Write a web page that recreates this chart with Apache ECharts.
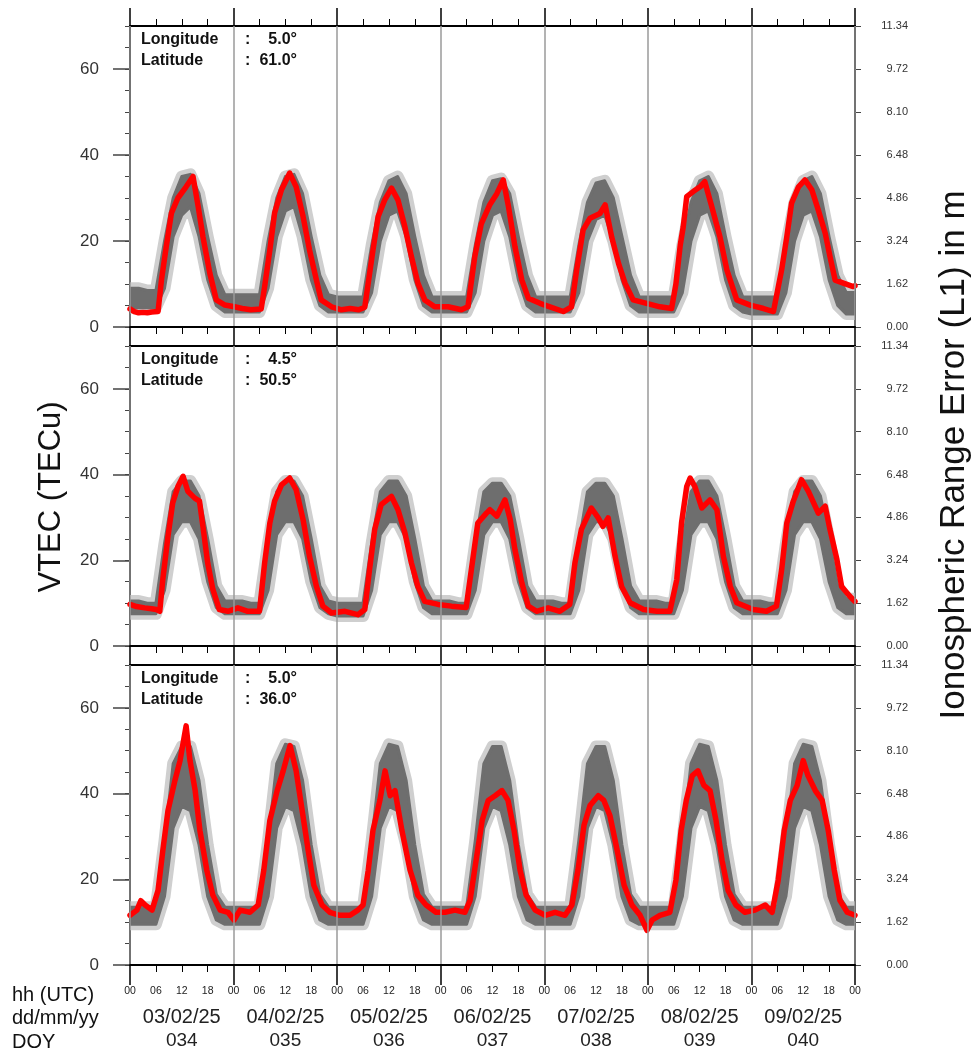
<!DOCTYPE html>
<html>
<head>
<meta charset="utf-8">
<script src="https://cdn.jsdelivr.net/npm/echarts@6/dist/echarts.min.js"></script>
<style>html,body{margin:0;padding:0;background:#fff}#c{width:973px;height:1056px}</style>
</head>
<body>
<div id="c"></div>
<script>
// ---------- data ----------
const dates = ['03/02/25','04/02/25','05/02/25','06/02/25','07/02/25','08/02/25','09/02/25'];
const doys = ['034','035','036','037','038','039','040'];
const hourLabels = ['00','06','12','18'];
const leftTicks = [0,20,40,60];
const rightTickLabels = ['0.00','1.62','3.24','4.86','6.48','8.10','9.72','11.34'];
const longitudes = ['5.0°','4.5°','5.0°'];
const latitudes = ['61.0°','50.5°','36.0°'];

const bandHours = [0,2,4,6,8,10,12,14,16,18,20,22,24,26,28,30,32,34,36,38,40,42,44,46,48,50,52,54,56,58,60,62,64,66,68,70,72,74,76,78,80,82,84,86,88,90,92,94,96,98,100,102,104,106,108,110,112,114,116,118,120,122,124,126,128,130,132,134,136,138,140,142,144,146,148,150,152,154,156,158,160,162,164,166,168];

const bandLo1 = [4.5,4.5,4.5,4.5,9,21,26,28,21,11,5,3.5, 3.5,3.5,3.5,3.5,9,21,27,28,21,11,5,3.5, 3.5,3.5,3.5,3.5,8,20,26,27,21,11,5,3.5, 3.5,3.5,3.5,3.5,8,20,26,27,21,11,5,3.5, 3.5,3.5,3.5,3.5,8,20,25,26,20,11,5,3.5, 3.5,3.5,3.5,3.5,8,20,26,27,21,11,5,3.5, 3,3,3,3,8,20,26,27,21,11,5,3, 3];
const bandHi1 = [9,9,8.5,8.5,20,30,35,35.5,31,21,12,7.5, 7.5,7.5,7.5,7.5,20,30,35,35.5,31,21,12,7.5, 7,7,7,7,19,29,34,35,31,21,12,7, 7,7,7,7,19,29,34,34.5,31,21,12,7, 7,7,7,7,19,29,33.5,34,30,21,12,7, 7,7,7,7,19,29,34,35,31,21,12,7, 7,7,7,7,19,29,34,35,31,21,12,8, 8];

const bandLo2 = [7.5,7.5,7.5,7.5,13,26,29,29,25,15,9,7.5, 7.5,7.5,7.5,7.5,13,26,29,29,25,15,9,7.5, 7,7,7,7,13,26,29,29,25,15,9,7.5, 7.5,7.5,7.5,7.5,13,26,29,29,25,15,9,7.5, 7.5,7.5,7.5,7.5,13,26,29,29,25,15,9,7.5, 7.5,7.5,7.5,7.5,13,26,29,29,25,15,9,7.5, 7.5,7.5,7.5,7.5,13,26,29,29,25,15,9,7.5, 7.5];
const bandHi2 = [10.5,10.5,10,10,24,36,38.5,38.5,35,25,14,10.5, 10.5,10.5,10,10,24,36,38.5,38.5,35,25,14,10.5, 10,10,10,10,24,36,38.5,38.5,35,25,14,10.5, 10.5,10.5,10,10,24,36,38,38,35,25,14,10.5, 10.5,10.5,10,10,24,36,38,38,35,25,14,10.5, 10.5,10.5,10,10,24,36,38.5,38.5,35,25,14,10.5, 10.5,10.5,10,10,24,36,38.5,38.5,35,25,14,11, 11];

const bandLo3 = [9.5,9.5,9.5,9.5,16,32,37,36,28,16,10.5,9.5, 9.5,9.5,9.5,9.5,16,32,37,36,28,16,10.5,9.5, 9.5,9.5,9.5,9.5,16,32,37,36,28,16,10.5,9.5, 9.5,9.5,9.5,9.5,16,32,37,36,28,16,10.5,9.5, 9.5,9.5,9.5,9.5,16,32,37,36,28,16,10.5,9.5, 9.5,9.5,9.5,9.5,16,32,37,36,28,16,10.5,9.5, 9.5,9.5,9.5,9.5,16,32,37,36,28,16,10.5,9.5, 9.5];
const bandHi3 = [13.5,13.5,13.5,13.5,29,47,51,51,43,28,16.5,13.5, 13.5,13.5,13.5,13.5,29,47,51.5,51,43,28,16.5,13.5, 13.5,13.5,13.5,13.5,29,47,51.5,51,43,28,16.5,13.5, 13.5,13.5,13.5,13.5,29,47,51,51,43,28,16.5,13.5, 13.5,13.5,13.5,13.5,29,47,51,51,43,28,16.5,13.5, 13.5,13.5,13.5,13.5,29,47,51.5,51,43,28,16.5,13.5, 13.5,13.5,13.5,13.5,29,47,51.5,51,43,28,16.5,13.5, 13.5];

const red1 = [[0,4.2],[1,3.6],[2,3.3],[3,3.4],[4,3.3],[5,3.5],[6.5,3.6],[7.3,11],[8.4,18.7],[9.6,26.5],[11.1,30],[13,32.6],[14.6,35],[15.8,28],[16.9,21],[18.5,12.5],[20,6.3],[22,5.1],[24.2,4.7],[26,4.3],[28,4.0],[30.4,4.2],[31.2,9.4],[32.4,17.9],[33.5,26.5],[35.1,31.9],[37,35.8],[38.5,32.6],[40.1,25.7],[41.6,17.9],[43.2,10.9],[44.3,6.3],[46.7,4.7],[49,4.0],[51,4.3],[53,4.0],[54.4,4.6],[55.2,10.2],[56.3,17.9],[57.5,25.7],[59,29.5],[60.6,32.3],[62.1,29.5],[63.7,23.3],[65.2,16.4],[66.7,10.2],[68.3,6.3],[70.6,4.7],[73.7,4.7],[76.8,4.0],[78.3,4.7],[79.9,16.4],[81.4,24],[83.4,28.5],[85,31],[86.5,34.2],[87.7,28],[89.2,18.7],[90.8,10.9],[92.3,6.7],[95,5.5],[97.3,4.7],[100.4,3.6],[102.3,4.7],[103.5,13.3],[105,22.6],[106.6,25.3],[108.9,26.4],[110.1,28.4],[111.6,21],[113.2,14.8],[114.7,10.2],[116.6,6.3],[119.7,5.5],[122.8,4.7],[125.5,4.3],[126.5,10],[127.5,19],[128.2,23.3],[129,30.3],[130.5,31.5],[132.1,32.6],[133.2,33.8],[134.8,28],[136.7,21],[138.3,13.3],[140.6,6.3],[143.7,5.1],[146.8,4.3],[149.1,3.6],[151,13.3],[152.2,21],[153.3,28.8],[154.9,32.6],[156.4,34.2],[158,31.9],[159.5,27.2],[161.1,21.8],[162.2,16.4],[163.4,10.9],[165.3,10.2],[167.6,9.4],[168,9.6]];

const red2 = [[0,9.7],[1.5,9.2],[3.4,8.9],[5,8.7],[6.1,8.5],[6.9,8.1],[7.6,15.5],[8.8,25.6],[9.9,33.4],[11.1,37.2],[12.3,39.6],[13.4,36.1],[15,34.5],[16.1,33.8],[16.9,27.9],[18,19.4],[19.2,13.2],[20.7,8.5],[22.7,8.1],[25,8.9],[27.3,8.1],[30,8.1],[31.2,19.4],[32.4,28.7],[33.5,33.8],[35.1,37.6],[37,39.2],[38.5,36.5],[40.1,29.5],[41.6,20.9],[43.2,13.9],[44.7,9.3],[46.7,7.7],[49.8,8.1],[52.8,7.3],[54.4,8.5],[55.5,17.8],[56.7,27.2],[58.2,33],[60.6,34.9],[62.1,31.8],[63.7,26.4],[65.2,19.4],[66.7,13.9],[68.3,10.4],[71.4,9.7],[74.5,9.3],[77.9,9.0],[79.1,17.8],[80.6,28.7],[82.6,31],[83.4,31.8],[85,30.3],[86.9,34.1],[88.1,29.5],[89.2,22.5],[90.8,14.7],[92.3,9.3],[94.2,8.1],[96.9,8.9],[99.6,8.1],[101.9,9.7],[103.1,19.4],[104.6,27.2],[106.9,32.2],[108.5,29.9],[109.6,27.9],[110.8,29.9],[112.4,20.9],[113.9,13.9],[115.9,10.1],[119,8.5],[122.1,8.1],[125.1,8.1],[126.7,15.5],[127.8,28.7],[129,37.2],[129.8,39.2],[130.9,37.2],[132.5,32.2],[134.4,34.1],[136,31.8],[137.5,20.9],[139.1,13.9],[140.6,10.1],[144.4,8.5],[147.5,8.1],[149.8,9.3],[151,17.8],[152.2,28.7],[153.7,33.8],[155.6,38.8],[157.2,36.1],[159.5,31],[161.1,32.6],[162.2,27.2],[163.8,20.2],[164.9,13.9],[166.8,11.6],[168,10.4]];

const red3 = [[0,11.6],[1.6,12.8],[2.5,15],[3.5,14],[5.1,12.8],[6.5,17.4],[7.6,26.7],[8.8,36],[10.4,43],[11.6,47.7],[13,55.8],[13.9,47.7],[15.1,40.7],[16.2,31.4],[17.8,22.1],[19.2,16.3],[20.9,12.8],[22.7,12.3],[24.1,10.5],[25.5,12.8],[27.8,12.3],[29.7,14],[31,22.1],[32.4,33.7],[34.1,40.7],[35.5,45.3],[37.1,51.2],[38.5,45.3],[39.9,36],[41.3,26.7],[42.6,18.6],[44.5,14],[46.3,12.3],[48.6,11.6],[51,11.6],[52.8,12.8],[54,14],[55.2,22.1],[56.3,31.4],[57.9,38.4],[59.1,45.3],[60.3,39.5],[61.4,40.7],[63,31.4],[64.9,22.1],[66.7,16.3],[68.6,14],[70.9,12.3],[73,12.3],[75.3,12.8],[77.6,12.3],[78.8,15.1],[80.2,24.4],[81.6,33.7],[83,38.4],[84.6,39.5],[86.2,40.7],[87.6,38.4],[89,31.4],[90.4,22.1],[91.8,16.3],[93.9,12.8],[96.2,11.6],[98.5,12.3],[100.8,11.6],[102.4,14],[103.8,22.1],[105.2,32.6],[106.6,37.2],[108.5,39.5],[109.8,38.4],[111.2,34.9],[112.9,26.7],[114.5,18.6],[116.3,14],[118.2,11.6],[119.8,8.1],[121,10.5],[122.8,11.6],[125.1,12.3],[126.5,19.8],[127.7,31.4],[128.9,38.4],[130.3,44.2],[131.6,45.3],[133,41.9],[134.4,40.7],[135.8,33.7],[137.2,24.4],[138.6,17.4],[140.4,14],[142.5,12.3],[144.8,12.8],[147.2,14],[148.8,12.3],[150.2,19.8],[151.6,31.4],[153,38.4],[154.6,41.9],[156,47.7],[157.1,44.2],[158.8,40.7],[160.4,38.4],[161.8,31.4],[163.2,22.1],[164.5,15.1],[166.2,12.3],[168,11.6]];

const bandsLo = [bandLo1, bandLo2, bandLo3];
const bandsHi = [bandHi1, bandHi2, bandHi3];
const reds = [red1, red2, red3];

// ---------- layout ----------
const FONT = "'Liberation Sans', Arial, Helvetica, sans-serif";
const panelTops = [26, 346, 665];
const panelHeights = [301, 300, 300];
const LEFT = 130, RIGHT = 118;

const grids = [], xAxes = [], yAxes = [], series = [], graphics = [];

for (let p = 0; p < 3; p++) {
  grids.push({left: LEFT, right: RIGHT, top: panelTops[p], height: panelHeights[p],
    show: true, borderColor: '#000', borderWidth: 2, backgroundColor: 'transparent'});

  const mainX = xAxes.length;
  xAxes.push({
    type: 'value', gridIndex: p, min: 0, max: 168, interval: 24, position: 'bottom',
    axisLine: {show: true, onZero: false, lineStyle: {color: '#000', width: 2}},
    axisTick: {show: true, length: (p === 2 ? 20 : 19), lineStyle: {color: '#000', width: 1.5}},
    minorTick: {show: true, splitNumber: 4, length: 7, lineStyle: {color: '#000', width: 1}},
    axisLabel: {show: false},
    splitLine: {show: true, lineStyle: {color: '#9a9a9a', width: 1.5}},
    z: 5
  });
  if (p === 0) {
    xAxes.push({
      type: 'value', gridIndex: p, min: 0, max: 168, interval: 24, position: 'top',
      axisLine: {show: true, onZero: false, lineStyle: {color: '#000', width: 2}},
      axisTick: {show: true, length: 18, lineStyle: {color: '#000', width: 1.5}},
      minorTick: {show: true, splitNumber: 4, length: 7, lineStyle: {color: '#000', width: 1}},
      axisLabel: {show: false}, splitLine: {show: false}
    });
  }
  if (p === 2) {
    xAxes.push({
      type: 'value', gridIndex: p, min: 0, max: 168, interval: 6, position: 'bottom',
      axisLine: {show: false}, axisTick: {show: false}, splitLine: {show: false},
      axisLabel: {show: true, margin: 21, fontSize: 10.5, color: '#222', fontFamily: FONT,
        showMinLabel: true, showMaxLabel: true,
        formatter: v => hourLabels[(Math.round(v) % 24) / 6]}
    });
    xAxes.push({
      type: 'value', gridIndex: p, min: 0, max: 168, interval: 12, position: 'bottom',
      axisLine: {show: false}, axisTick: {show: false}, splitLine: {show: false},
      axisLabel: {show: true, margin: 40, color: '#222', fontFamily: FONT,
        showMinLabel: true, showMaxLabel: true,
        formatter: v => {
          const h = Math.round(v);
          if (h % 24 !== 12) return '';
          const k = (h - 12) / 24;
          return '{d|' + dates[k] + '}\n{y|' + doys[k] + '}';
        },
        rich: {
          d: {fontSize: 20, lineHeight: 24, color: '#222', fontFamily: FONT},
          y: {fontSize: 19, lineHeight: 24, color: '#222', fontFamily: FONT}
        }}
    });
  }

  const majY = yAxes.length;
  yAxes.push({
    type: 'value', gridIndex: p, min: 0, max: 70, interval: 10, position: 'left',
    axisLine: {show: true, onZero: false, lineStyle: {color: '#000', width: 2}},
    axisTick: {show: true, customValues: leftTicks, length: 17, lineStyle: {color: '#444', width: 1.5}},
    axisLabel: {show: true, customValues: leftTicks, margin: 31, fontSize: 17, color: '#333', fontFamily: FONT},
    splitLine: {show: false}
  });
  yAxes.push({
    type: 'value', gridIndex: p, min: 0, max: 70, interval: 5, position: 'left',
    axisLine: {show: false},
    axisTick: {show: true, length: 5, lineStyle: {color: '#444', width: 1}},
    axisLabel: {show: false}, splitLine: {show: false}
  });
  yAxes.push({
    type: 'value', gridIndex: p, min: 0, max: 70, interval: 10, position: 'right',
    axisLine: {show: true, onZero: false, lineStyle: {color: '#000', width: 2}},
    axisTick: {show: true, length: 6, lineStyle: {color: '#444', width: 1}},
    axisLabel: {show: true, margin: 53, align: 'right', fontSize: 11, color: '#333', fontFamily: FONT,
      formatter: v => rightTickLabels[Math.round(v / 10)]},
    splitLine: {show: false}
  });

  const lo = bandsLo[p], hi = bandsHi[p];
  // gray spread band (light fringe + dark core), drawn as one polygon through the axes' coord mapping
  series.push({
    type: 'custom', xAxisIndex: mainX, yAxisIndex: majY, clip: true, silent: true, animation: false, z: 3,
    data: bandHours.map((h, i) => [h, lo[i], hi[i]]),
    encode: {x: 0, y: [1, 2]},
    renderItem: (params, api) => {
      if (params.dataIndex !== 0) return null;
      const pts = [];
      for (let i = 0; i < bandHours.length; i++) pts.push(api.coord([bandHours[i], hi[i]]));
      for (let i = bandHours.length - 1; i >= 0; i--) pts.push(api.coord([bandHours[i], lo[i]]));
      return {type: 'group', children: [
        {type: 'polygon', shape: {points: pts}, style: {fill: '#cfcfcf', stroke: '#cfcfcf', lineWidth: 12, lineJoin: 'round'}},
        {type: 'polygon', shape: {points: pts}, style: {fill: '#6e6e6e', stroke: '#6e6e6e', lineWidth: 3, lineJoin: 'round'}}
      ]};
    }
  });
  // red VTEC
  series.push({type: 'line', xAxisIndex: mainX, yAxisIndex: majY, showSymbol: false, symbol: 'none',
    silent: true, animation: false, clip: true, data: reds[p],
    lineStyle: {color: '#ff0000', width: 5.5, join: 'round', cap: 'round'}, z: 4});

  // station annotation
  const t = panelTops[p];
  const txt = (x, y, s, align) => graphics.push({type: 'text', x: x, y: y, silent: true, z: 50,
    style: {text: s, fontFamily: FONT, fontSize: 16, fontWeight: 'bold', fill: '#111',
      textAlign: align || 'left', textVerticalAlign: 'middle'}});
  txt(141, t + 14, 'Longitude');
  txt(141, t + 35, 'Latitude');
  txt(245, t + 14, ':');
  txt(245, t + 35, ':');
  txt(297, t + 14, longitudes[p], 'right');
  txt(297, t + 35, latitudes[p], 'right');
}

// titles and row labels
graphics.push({type: 'text', x: 51, y: 497, rotation: Math.PI / 2, silent: true,
  style: {text: 'VTEC (TECu)', fontFamily: FONT, fontSize: 31, fill: '#111', textAlign: 'center', textVerticalAlign: 'middle'}});
graphics.push({type: 'text', x: 954, y: 455, rotation: Math.PI / 2, silent: true,
  style: {text: 'Ionospheric Range Error (L1) in m', fontFamily: FONT, fontSize: 35, fill: '#111', textAlign: 'center', textVerticalAlign: 'middle'}});
[['hh (UTC)', 995], ['dd/mm/yy', 1018], ['DOY', 1042]].forEach(([s, y]) => graphics.push({
  type: 'text', x: 12, y: y, silent: true,
  style: {text: s, fontFamily: FONT, fontSize: 20, fill: '#111', textAlign: 'left', textVerticalAlign: 'middle'}}));

const chart = echarts.init(document.getElementById('c'), null, {renderer: 'canvas'});
chart.setOption({
  animation: false,
  backgroundColor: '#fff',
  grid: grids, xAxis: xAxes, yAxis: yAxes, series: series, graphic: graphics
});
</script>
</body>
</html>
